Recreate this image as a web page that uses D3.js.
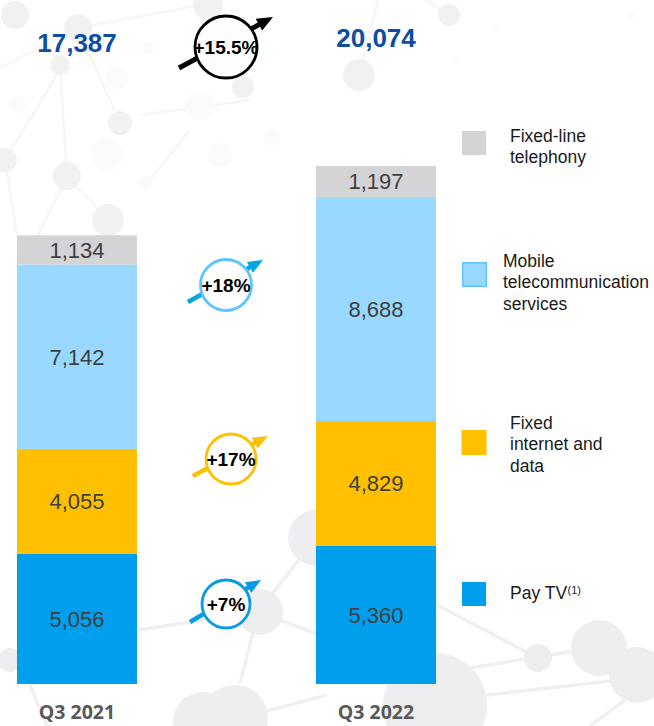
<!DOCTYPE html>
<html><head><meta charset="utf-8">
<script src="https://cdnjs.cloudflare.com/ajax/libs/d3/7.8.5/d3.min.js"></script>
<style>html,body{margin:0;padding:0;background:#fff;overflow:hidden}svg{display:block}text{font-family:"Liberation Sans",Arial,sans-serif}</style>
</head><body><svg id="c" width="654" height="726"></svg>
<script>
const periods = ["Q3 2021", "Q3 2022"];
const seriesNames = ["Pay TV", "Fixed internet and data", "Mobile telecommunication services", "Fixed-line telephony"];
const payTv = [5056, 5360];
const fixedInternet = [4055, 4829];
const mobile = [7142, 8688];
const fixedLine = [1134, 1197];
const totals = [17387, 20074];
const growthLabels = ["+7%", "+17%", "+18%", "+15.5%"];
const colors = ["#009fee", "#ffc000", "#99d9ff", "#d4d4d6"];

// Decorative faint network behind the chart
const bgNodesTop = [[15,15,14],[78,28,14],[208,5,15],[60,65,10],[120,123,12],[243,87,11],[5,160,12],[67,176,14],[108,220,16],
 [449,15,11],[359,75,16]];
const bgNodesBottom = [[316,538,28],[260,612,23],[203,722,30],[235,718,33],[10,660,12],[538,658,14],[599,648,28],[637,675,28],[435,705,52]];
const bgFaint = [[148,48,6],[117,78,11],[107,155,16],[200,105,14],[145,183,7],[220,155,12],[272,137,9],[495,28,4],[631,15,4],[18,105,8],[457,60,4]];
const bgLinesTop = [[0,68,78,28],[78,28,200,5],[78,28,120,123],[60,65,67,176],[67,176,108,220],[67,176,38,235],[5,160,60,70],[5,160,17,235],
 [378,0,359,75],[425,0,449,15],[140,115,250,100],[150,180,190,130]];
const bgLinesBottom = [[138,630,258,612],[258,612,316,538],[258,612,240,684],[258,612,320,635],[263,712,327,695],[30,685,47,726],
 [437,605,538,658],[445,672,599,647],[487,695,620,680],[625,700,590,726]];

const W = 654, H = 726, baseY = 684;
const svg = d3.select("#c");
const x = d3.scaleBand().domain(periods).range([17, 436]).paddingInner(179 / 299).paddingOuter(0);
const y = d3.scaleLinear().domain([0, 20074]).range([baseY, 166]);

// background
const bg = svg.append("g");
function bgLines(data, color, w) {
  bg.append("g").selectAll("line").data(data).join("line")
    .attr("x1", d => d[0]).attr("y1", d => d[1]).attr("x2", d => d[2]).attr("y2", d => d[3])
    .attr("stroke", color).attr("stroke-width", w);
}
function bgCircles(data, color) {
  bg.append("g").selectAll("circle").data(data).join("circle")
    .attr("cx", d => d[0]).attr("cy", d => d[1]).attr("r", d => d[2]).attr("fill", color);
}
bgLines(bgLinesTop, "#f6f6f7", 2.5);
bgLines(bgLinesBottom, "#f0f0f2", 3.5);
bgCircles(bgFaint, "#fbfbfb");
bgCircles(bgNodesTop, "#f1f1f2");
bgCircles(bgNodesBottom, "#eeeef0");

// stacked bars
const rows = periods.map((p, i) => ({ period: p, 0: payTv[i], 1: fixedInternet[i], 2: mobile[i], 3: fixedLine[i] }));
const stacked = d3.stack().keys([0, 1, 2, 3])(rows);
const layers = svg.append("g").selectAll("g").data(stacked).join("g").attr("fill", (d, i) => colors[i]);
layers.selectAll("rect").data(d => d).join("rect")
  .attr("x", d => x(d.data.period)).attr("width", x.bandwidth())
  .attr("y", d => y(d[1])).attr("height", d => y(d[0]) - y(d[1]));
layers.selectAll("text").data(d => d.map(v => ({ v, val: v[1] - v[0] }))).join("text")
  .attr("x", d => x(d.v.data.period) + x.bandwidth() / 2)
  .attr("y", d => (y(d.v[0]) + y(d.v[1])) / 2 + 8)
  .attr("text-anchor", "middle").attr("font-size", 22).attr("fill", "#404040")
  .text(d => d3.format(",")(d.val));

// totals
const totalBaselines = [52, 47];
svg.append("g").selectAll("text").data(totals).join("text")
  .attr("x", (d, i) => x(periods[i]) + x.bandwidth() / 2)
  .attr("y", (d, i) => totalBaselines[i])
  .attr("text-anchor", "middle").attr("font-size", 26).attr("font-weight", 700).attr("fill", "#0b4ea2")
  .text(d => d3.format(",")(d));

// category axis
const axis = svg.append("g").attr("transform", `translate(0,${baseY})`)
  .call(d3.axisBottom(x).tickSize(0).tickPadding(21));
axis.select(".domain").remove();
axis.selectAll("text").attr("font-size", 19.5).attr("font-weight", 700).attr("fill", "#595959")
  .style("font-family", "'Open Sans',sans-serif");

// growth badges
const badgeSpecs = [
  { cx: 226, cy: 604, r: 24, ring: "#0a9be8", arrow: "#0a9be8", tail: [190, 622], tip: [261, 580], w: 4.5, head: 15, hh: 6.2, fs: 19 },
  { cx: 231, cy: 459, r: 25, ring: "#ffc000", arrow: "#ffc000", tail: [193, 476], tip: [268, 436], w: 4.5, head: 15, hh: 6.2, fs: 19 },
  { cx: 226, cy: 285, r: 25.5, ring: "#5ec4ff", arrow: "#00a7e3", tail: [188, 302], tip: [263, 260], w: 4.5, head: 15, hh: 6.2, fs: 19 },
  { cx: 226, cy: 47, r: 31, ring: "#000", arrow: "#000", tail: [179, 68], tip: [273, 17], w: 5, head: 16, hh: 6.8, fs: 19 }
];
function arrowPath(s) {
  const [x0, y0] = s.tail, [x1, y1] = s.tip;
  const L = Math.hypot(x1 - x0, y1 - y0), ux = (x1 - x0) / L, uy = (y1 - y0) / L, nx = -uy, ny = ux;
  const bx = x1 - ux * s.head, by = y1 - uy * s.head, hw = s.w / 2, hh = s.hh;
  const p = d3.path();
  p.moveTo(x0 + nx * hw, y0 + ny * hw);
  p.lineTo(bx + nx * hw, by + ny * hw);
  p.lineTo(bx + nx * hh, by + ny * hh);
  p.lineTo(x1, y1);
  p.lineTo(bx - nx * hh, by - ny * hh);
  p.lineTo(bx - nx * hw, by - ny * hw);
  p.lineTo(x0 - nx * hw, y0 - ny * hw);
  p.closePath();
  return p.toString();
}
const badges = svg.append("g").selectAll("g").data(badgeSpecs).join("g");
badges.append("path").attr("d", arrowPath).attr("fill", d => d.arrow);
badges.append("circle").attr("cx", d => d.cx).attr("cy", d => d.cy).attr("r", d => d.r)
  .attr("fill", "#fff").attr("stroke", d => d.ring).attr("stroke-width", 2.8);
badges.append("text").attr("x", d => d.cx).attr("y", d => d.cy + 7).attr("text-anchor", "middle")
  .attr("font-size", d => d.fs).attr("font-weight", 700).attr("fill", "#000")
  .text((d, i) => growthLabels[i]);

// legend
const legendLines = [["Pay TV"], ["Fixed", "internet and", "data"], ["Mobile", "telecommunication", "services"], ["Fixed-line", "telephony"]];
const legendBoxes = [[462, 582, 24], [461.5, 430, 25], [462, 262, 25], [462, 131, 24]];
const legendX = [510, 510, 503, 510];
const legendY = [599, 429, 267, 142];
const legendG = svg.append("g").selectAll("g").data(seriesNames).join("g");
legendG.append("rect")
  .attr("x", (d, i) => legendBoxes[i][0]).attr("y", (d, i) => legendBoxes[i][1])
  .attr("width", (d, i) => legendBoxes[i][2]).attr("height", (d, i) => legendBoxes[i][2])
  .attr("fill", (d, i) => colors[i]);
legendG.filter((d, i) => i === 2).select("rect")
  .attr("x", 462.75).attr("y", 262.75).attr("width", 23.5).attr("height", 23.5)
  .attr("stroke", "#5ec4ff").attr("stroke-width", 1.5);
legendG.each(function (d, i) {
  const t = d3.select(this).append("text").attr("font-size", 17.5).attr("fill", "#1a1a1a");
  legendLines[i].forEach((line, j) => {
    t.append("tspan").attr("x", legendX[i]).attr("y", legendY[i] + j * 21.3).text(line);
  });
  if (i === 0) t.append("tspan").attr("dy", -5).attr("dx", 0.5).attr("font-size", 11).text("(1)");
});
</script></body></html>
